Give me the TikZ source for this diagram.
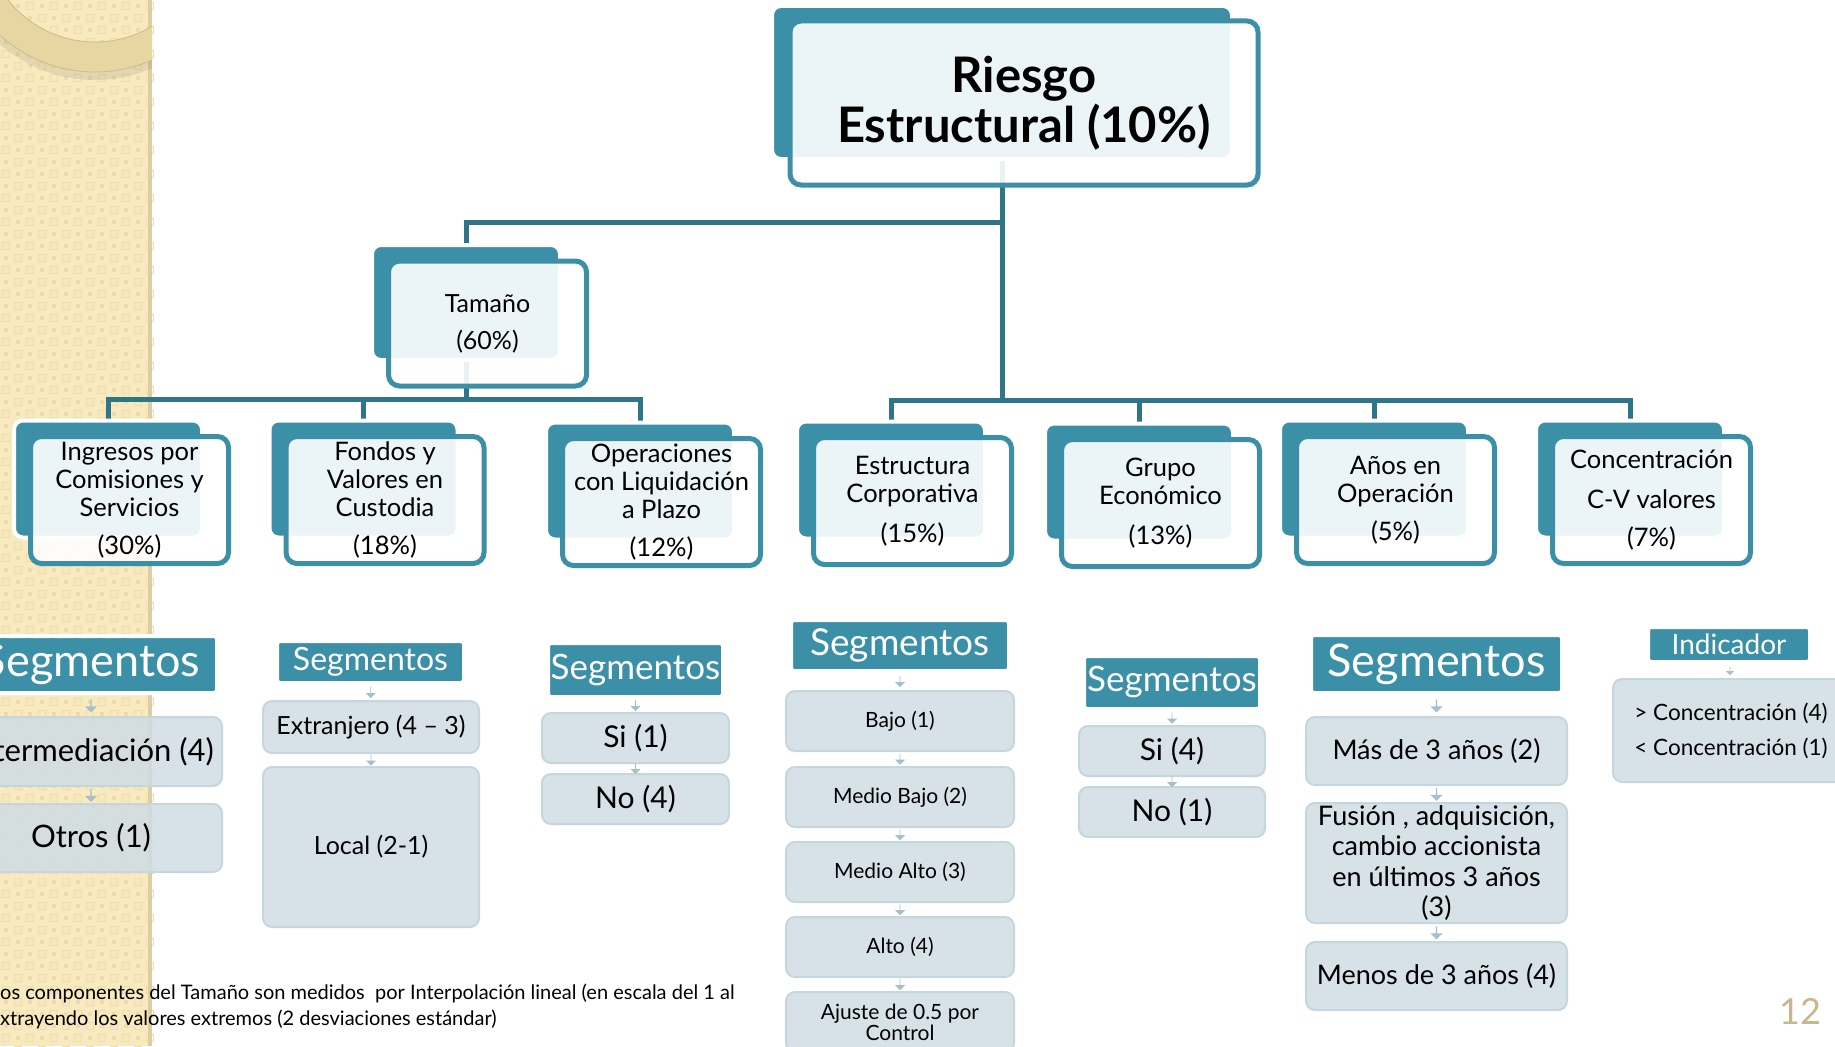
\documentclass[tikz,border=0pt]{standalone}
\usepackage{fontspec}
\setmainfont{Lato}
\usetikzlibrary{shapes.arrows,calc}
\pgfdeclarelayer{strip}
\pgfdeclarelayer{links}
\pgfsetlayers{strip,links,main}

\definecolor{teal1}{HTML}{3B8FA6}
\definecolor{linkc}{HTML}{2E7587}
\definecolor{itemc}{HTML}{CFDDE4}
\definecolor{itemb}{HTML}{C6D6DD}
\definecolor{arrowc}{HTML}{A5BFCC}
\definecolor{beige}{HTML}{F8E9BF}
\definecolor{beigedot}{HTML}{EDDDAC}
\definecolor{stripedge}{HTML}{DCCDA4}
\definecolor{ringc}{HTML}{E8D6A2}
\definecolor{ringline}{HTML}{CDBB88}
\definecolor{pagec}{HTML}{C9B58E}

\begin{document}
\begin{tikzpicture}[x=1pt,y=-1pt]

\tikzset{backbox/.style = {rectangle, rounded corners=9pt, fill=teal1, draw=white, line width=4pt, minimum width=188pt, minimum height=117pt}}
\tikzset{frontbox/.style = {rectangle, rounded corners=11pt, draw=teal1, line width=5pt, fill=white, fill opacity=0.9, text opacity=1, align=center, minimum width=198pt, minimum height=127pt, inner sep=2pt, font=\fontsize{25.5}{28}\selectfont}}
\tikzset{link/.style = {draw=linkc, line width=5pt}}
\tikzset{seghead/.style = {rectangle, rounded corners=3pt, fill=teal1, draw=white, line width=4pt, text=white, inner sep=0pt}}
\tikzset{segitem/.style = {rectangle, rounded corners=9pt, fill=itemc, fill opacity=0.85, text opacity=1, draw=itemb, line width=2pt, align=center, inner sep=0pt}}
\tikzset{segarrow/.style = {single arrow, shape border rotate=270, fill=arrowc, draw=none, inner sep=0pt, minimum height=11pt, minimum width=10pt, single arrow head extend=2pt}}

\useasboundingbox (0,0) rectangle (1835,1046);

%left strip
\begin{pgfonlayer}{strip}
\fill[beige] (0,0) rectangle (152,1046);
\foreach \i in {0,...,12}{
  \foreach \j in {0,...,87}{
    \pgfmathtruncatemacro{\k}{mod(\i+\j,2)}
    \ifnum\k=0
      \draw[beigedot, line width=1pt] (\i*12+2.5,\j*12+2.5) rectangle ++(7,7);
    \else
      \fill[beigedot] (\i*12+4,\j*12+4) rectangle ++(4,4);
    \fi
  }
}
\fill[stripedge] (148,0) rectangle (152,1046);
\begin{scope}
\clip (0,0) rectangle (152,1046);
\fill[black, opacity=0.08, even odd rule] (95,-64) circle (144pt) (95,-69) circle (111pt);
\fill[ringc, even odd rule] (95,-69) circle (141pt) (95,-69) circle (111pt);
\draw[ringline, line width=0.8pt] (95,-69) circle (111pt);
\draw[ringline, line width=0.8pt] (95,-69) circle (141pt);
\end{scope}
\end{pgfonlayer}

%title
\node[backbox, minimum width=460pt, minimum height=153pt] (tb) at (1002,82.5) {};
\node[frontbox, minimum width=468pt, minimum height=164pt, font=\fontsize{49}{50}\selectfont\bfseries] (tf) at (1024,103) {Riesgo\\Estructural (10\%)};

%size
\node[backbox, minimum height=115pt] (sb) at (466,302.5) {};
\node[frontbox, minimum height=125pt, font=\fontsize{25}{37}\selectfont] (sf) at (487.5,323.5) {Tamaño\\(60\%)};

%second level
\node[backbox] (b1) at (108,479) {};
\node[frontbox] (f1) at (129.5,500) {Ingresos por\\Comisiones y\\Servicios\\[10pt](30\%)};
\node[backbox] (b2) at (363.5,479) {};
\node[frontbox] (f2) at (385,500) {Fondos y\\Valores en\\Custodia\\[10pt](18\%)};
\node[backbox] (b3) at (640,481) {};
\node[frontbox] (f3) at (661.5,502) {Operaciones\\con Liquidación\\a Plazo\\[10pt](12\%)};
\node[backbox] (b4) at (891,480) {};
\node[frontbox] (f4) at (912.5,501) {Estructura\\Corporativa\\[12pt](15\%)};
\node[backbox] (b5) at (1139,482) {};
\node[frontbox] (f5) at (1160.5,503) {Grupo\\Económico\\[12pt](13\%)};
\node[backbox] (b6) at (1374,479) {};
\node[frontbox] (f6) at (1395.5,500) {Años en\\Operación\\[10pt](5\%)};
\node[backbox] (b7) at (1630,479) {};
\node[frontbox] (f7) at (1651.5,500) {Concentración\\[12pt]C-V valores\\[10pt](7\%)};

%connectors
\coordinate (up) at (0,222);
\coordinate (lb) at (0,399);
\coordinate (rb) at (0,400);
\begin{pgfonlayer}{links}
\draw[link] (tb.south) -- (tb.south |- rb);
\draw[link] (sb.north) |- (tb.south |- up);
\draw[link] (sb.south) -- (sb.south |- lb);
\draw[link] (b1.north) |- (b3.north |- lb) -- (b3.north);
\draw[link] (b2.north) -- (b2.north |- lb);
\draw[link] (b4.north) |- (b7.north |- rb) -- (b7.north);
\draw[link] (b5.north) -- (b5.north |- rb);
\draw[link] (b6.north) -- (b6.north |- rb);
\end{pgfonlayer}

%segments 1
\node[seghead, minimum width=252pt, minimum height=57pt, font=\fontsize{45}{45}\selectfont] (h1) at (91,664.5) {Segmentos};
\node[segitem, minimum width=262pt, minimum height=69pt, font=\fontsize{31}{34}\selectfont] (i11) at (91,751.5) {Intermediación (4)};
\node[segitem, minimum width=262pt, minimum height=68pt, font=\fontsize{31}{34}\selectfont] (i12) at (91,838) {Otros (1)};
\node[segarrow, minimum height=13pt, minimum width=12pt] (a11) at ($(h1.south)!0.5!(i11.north)$) {};
\node[segarrow, minimum height=13pt, minimum width=12pt] (a12) at ($(i11.south)!0.5!(i12.north)$) {};

%segments 2
\node[seghead, minimum width=187pt, minimum height=42pt, font=\fontsize{32}{32}\selectfont] (h2) at (370.5,662) {Segmentos};
\node[segitem, minimum width=216pt, minimum height=52pt, font=\fontsize{25}{28}\selectfont] (i21) at (371,727) {Extranjero (4 – 3)};
\node[segitem, minimum width=216pt, minimum height=160pt, font=\fontsize{25}{28}\selectfont] (i22) at (371,847) {Local (2-1)};
\node[segarrow] (a21) at ($(h2.south)!0.5!(i21.north)$) {};
\node[segarrow] (a22) at ($(i21.south)!0.5!(i22.north)$) {};

%segments 3
\node[seghead, minimum width=175pt, minimum height=54pt, font=\fontsize{35}{35}\selectfont] (h3) at (635.5,670) {Segmentos};
\node[segitem, minimum width=187pt, minimum height=50pt, font=\fontsize{30}{32}\selectfont] (i31) at (635.5,738) {Si (1)};
\node[segitem, minimum width=187pt, minimum height=50pt, font=\fontsize{30}{32}\selectfont] (i32) at (635.5,799) {No (4)};
\node[segarrow] (a31) at ($(h3.south)!0.5!(i31.north)$) {};
\node[segarrow] (a32) at ($(i31.south)!0.5!(i32.north)$) {};

%segments 4
\node[seghead, minimum width=218pt, minimum height=51pt, font=\fontsize{37}{37}\selectfont] (h4) at (900,645.5) {Segmentos};
\node[segitem, minimum width=228pt, minimum height=60pt, font=\fontsize{21}{21}\selectfont] (i41) at (900,721) {Bajo (1)};
\node[segitem, minimum width=228pt, minimum height=60pt, font=\fontsize{21}{21}\selectfont] (i42) at (900,797) {Medio Bajo (2)};
\node[segitem, minimum width=228pt, minimum height=60pt, font=\fontsize{21}{21}\selectfont] (i43) at (900,872) {Medio Alto (3)};
\node[segitem, minimum width=228pt, minimum height=60pt, font=\fontsize{21}{21}\selectfont] (i44) at (900,947) {Alto (4)};
\node[segitem, minimum width=228pt, minimum height=60pt, font=\fontsize{21}{21}\selectfont] (i45) at (900,1022) {Ajuste de 0.5 por\\Control};
\node[segarrow] (a41) at ($(h4.south)!0.5!(i41.north)$) {};
\node[segarrow] (a42) at ($(i41.south)!0.5!(i42.north)$) {};
\node[segarrow] (a43) at ($(i42.south)!0.5!(i43.north)$) {};
\node[segarrow] (a44) at ($(i43.south)!0.5!(i44.north)$) {};
\node[segarrow] (a45) at ($(i44.south)!0.5!(i45.north)$) {};

%segments 5
\node[seghead, minimum width=176pt, minimum height=53pt, font=\fontsize{35}{35}\selectfont] (h5) at (1172,682.5) {Segmentos};
\node[segitem, minimum width=186pt, minimum height=50pt, font=\fontsize{30}{32}\selectfont] (i51) at (1172,751) {Si (4)};
\node[segitem, minimum width=186pt, minimum height=50pt, font=\fontsize{30}{32}\selectfont] (i52) at (1172,812) {No (1)};
\node[segarrow] (a51) at ($(h5.south)!0.5!(i51.north)$) {};
\node[segarrow] (a52) at ($(i51.south)!0.5!(i52.north)$) {};

%segments 6
\node[seghead, minimum width=251pt, minimum height=58pt, font=\fontsize{45}{45}\selectfont] (h6) at (1436.5,664) {Segmentos};
\node[segitem, minimum width=261pt, minimum height=68pt, font=\fontsize{27}{30.5}\selectfont] (i61) at (1436.5,751) {Más de 3 años (2)};
\node[segitem, minimum width=261pt, minimum height=120pt, font=\fontsize{27}{30.5}\selectfont] (i62) at (1436.5,863) {Fusión , adquisición,\\cambio accionista\\en últimos 3 años\\(3)};
\node[segitem, minimum width=261pt, minimum height=68pt, font=\fontsize{27}{30.5}\selectfont] (i63) at (1436.5,976) {Menos de 3 años (4)};
\node[segarrow, minimum height=13pt, minimum width=12pt] (a61) at ($(h6.south)!0.5!(i61.north)$) {};
\node[segarrow, minimum height=13pt, minimum width=12pt] (a62) at ($(i61.south)!0.5!(i62.north)$) {};
\node[segarrow, minimum height=13pt, minimum width=12pt] (a63) at ($(i62.south)!0.5!(i63.north)$) {};

%segments 7
\node[seghead, minimum width=162pt, minimum height=35pt, font=\fontsize{28}{28}\selectfont] (h7) at (1729,644.5) {Indicador};
\node[segitem, minimum width=236pt, minimum height=103pt, align=left, font=\fontsize{22.5}{35}\selectfont] (i71) at (1731,730.5) {> Concentración (4)\\< Concentración (1)};
\node[segarrow, minimum height=8pt, minimum width=8pt] (a71) at ($(h7.south)!0.5!(i71.north)$) {};

%note and page number
\node[anchor=west, align=left, inner sep=0pt, font=\fontsize{20}{25.5}\selectfont] (note) at (0,1006.5) {os componentes del Tamaño son medidos~ por Interpolación lineal (en escala del 1 al\\xtrayendo los valores extremos (2 desviaciones estándar)};
\node[text=pagec, font=\fontsize{36}{36}\selectfont] (pnum) at (1800,1011) {12};

\end{tikzpicture}
\end{document}
